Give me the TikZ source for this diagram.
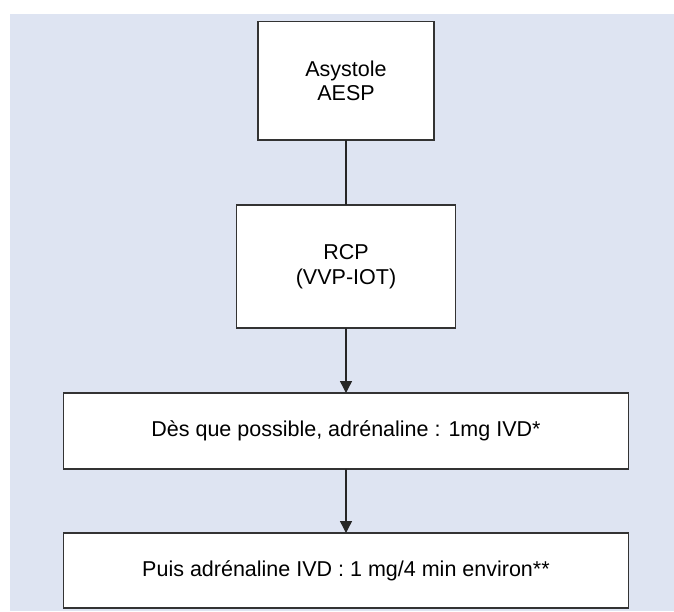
\documentclass[tikz,border=0pt]{standalone}
\usepackage{fontspec}
\setmainfont{Liberation Sans}
\usetikzlibrary{arrows.meta,positioning}
\definecolor{bgblue}{RGB}{222,228,242}
\tikzset{bx/.style={draw=black!80,line width=1.4pt,fill=white,align=center,font=\fontsize{21.5}{24.5}\selectfont,inner sep=0pt,outer sep=0pt},
 ln/.style={draw=black!85,line width=1.4pt},
 ar/.style={ln,-{Triangle[length=12pt,width=12pt]}}}
\begin{document}
\begin{tikzpicture}[x=1pt,y=1pt,node distance=65pt]
\useasboundingbox (0,0) rectangle (674,-611);
\fill[bgblue](10,-14) rectangle (674,-611);
\node[bx,minimum width=176pt,minimum height=118.5pt,anchor=north](a) at (346,-21.5){Asystole\\AESP};
\node[bx,minimum width=219pt,minimum height=123pt,below=of a](b){RCP\\(VVP-IOT)};
\node[bx,minimum width=565pt,minimum height=76pt,below=of b](c){D\`es que possible, adr\'enaline : 1mg IVD*};
\node[bx,minimum width=565pt,minimum height=75pt,below=64pt of c](d){Puis adr\'enaline IVD : 1 mg/4 min environ**};
\draw[ln](a)--(b);\draw[ar](b)--(c);\draw[ar](c)--(d);
\end{tikzpicture}
\end{document}
